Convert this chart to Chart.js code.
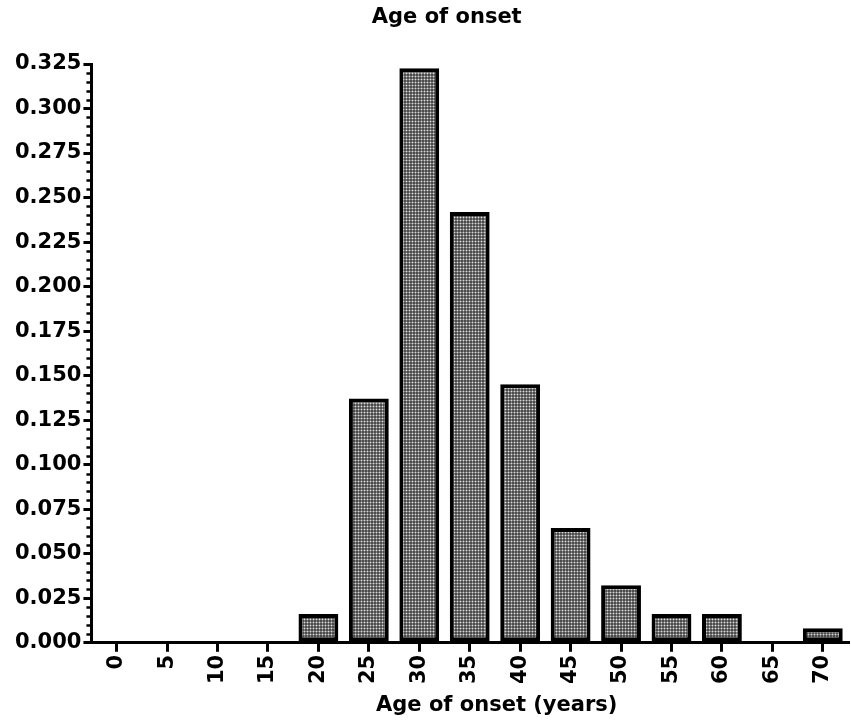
<!DOCTYPE html>
<html>
<head>
<meta charset="utf-8">
<script src="https://cdn.jsdelivr.net/npm/chart.js@4"></script>
<style>
  html, body { margin: 0; padding: 0; background: #fff; }
  #wrap { width: 851px; height: 722px; }
</style>
</head>
<body>
<div id="wrap"><canvas id="onsetChart" width="851" height="722"></canvas></div>
<script>
// age bins (years) and relative frequency
const ageLabels = ['0', '5', '10', '15', '20', '25', '30', '35', '40', '45', '50', '55', '60', '65', '70'];
const frequency = [0, 0, 0, 0, 0.0161, 0.1371, 0.3226, 0.2419, 0.1452, 0.0645, 0.0323, 0.0161, 0.0161, 0, 0.0081];

const chartTitle = 'Age of onset';
const xTitle = 'Age of onset (years)';

const yMax = 0.325;
const yMajorStep = 0.025;
const yMinorStep = 0.005;

// gray dotted fill like the original
function makePattern() {
    const tile = document.createElement('canvas');
    tile.width = 3;
    tile.height = 3;
    const t = tile.getContext('2d');
    t.fillStyle = '#4c4c4c';
    t.fillRect(0, 0, 3, 3);
    t.fillStyle = '#828282';
    t.fillRect(1, 0, 1, 3);
    t.fillRect(0, 1, 3, 1);
    t.fillStyle = '#dadada';
    t.fillRect(1, 1, 1, 1);
    return t.createPattern(tile, 'repeat');
}

const fontFamily = '"DejaVu Sans", sans-serif';
const tickFont = { family: fontFamily, weight: 'bold', size: 21 };

// small ticks between the labelled ones on the y axis
const minorTicks = {
    id: 'minorTicks',
    afterDraw(chart) {
        const y = chart.scales.y;
        const ctx = chart.ctx;
        const x0 = y.right;
        ctx.save();
        ctx.strokeStyle = '#000';
        ctx.lineWidth = 2.5;
        const n = Math.round(yMax / yMinorStep);
        for (let i = 0; i <= n; i++) {
            if (i % 5 === 0) continue;
            const py = Math.round(y.getPixelForValue(i * yMinorStep)) + 0.5;
            ctx.beginPath();
            ctx.moveTo(x0 - 5, py);
            ctx.lineTo(x0, py);
            ctx.stroke();
        }
        ctx.restore();
    }
};

// titles sit a bit off-centre in the original, so place them by hand
const titles = {
    id: 'titles',
    afterDraw(chart) {
        const ctx = chart.ctx;
        const area = chart.chartArea;
        const mid = (area.left + area.right) / 2;
        ctx.save();
        ctx.fillStyle = '#000';
        ctx.font = 'bold 21px ' + fontFamily;
        ctx.textAlign = 'center';
        ctx.textBaseline = 'middle';
        ctx.fillText(chartTitle, mid - 23, 18);
        ctx.fillText(xTitle, mid + 27, 706);
        ctx.restore();
    }
};

new Chart(document.getElementById('onsetChart').getContext('2d'), {
    type: 'bar',
    data: {
        labels: ageLabels,
        datasets: [{
            label: chartTitle,
            data: frequency,
            backgroundColor: makePattern(),
            borderColor: '#000',
            borderWidth: 4,
            borderSkipped: false,
            barPercentage: 0.79,
            categoryPercentage: 1
        }]
    },
    options: {
        responsive: false,
        animation: false,
        layout: { padding: { left: 13, right: -1, top: 64, bottom: 35 } },
        plugins: {
            legend: { display: false },
            tooltip: { enabled: false },
            title: { display: false }
        },
        scales: {
            x: {
                border: { color: '#000', width: 3 },
                grid: { display: true, drawOnChartArea: false, color: '#000', tickLength: 9, lineWidth: 3, offset: false },
                ticks: { color: '#000', font: tickFont, minRotation: 90, maxRotation: 90, padding: 3 }
            },
            y: {
                min: 0,
                max: yMax,
                border: { color: '#000', width: 3 },
                grid: { display: true, drawOnChartArea: false, color: '#000', tickLength: 8, lineWidth: 3 },
                ticks: {
                    stepSize: yMajorStep,
                    color: '#000',
                    font: tickFont,
                    padding: 2,
                    callback: v => v.toFixed(3)
                }
            }
        }
    },
    plugins: [minorTicks, titles]
});
</script>
</body>
</html>
